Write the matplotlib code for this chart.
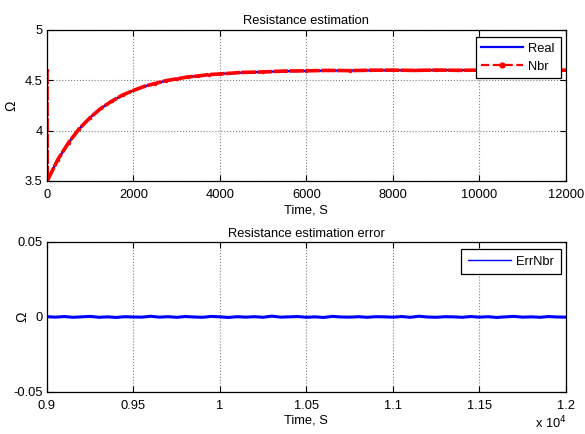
import numpy as np
import matplotlib
matplotlib.use("Agg")
import matplotlib.pyplot as plt
from matplotlib.lines import Line2D
from matplotlib.ticker import FuncFormatter

plt.rcParams['font.family'] = ['Liberation Sans', 'DejaVu Sans']

# --- data ---
t_real = [0, 250, 500, 750, 1000, 1250, 1500, 1750, 2000, 2250, 2500, 2750,
          3000, 3250, 3500, 3750, 4000, 4500, 5000, 5500, 6000, 6500, 7000,
          7500, 8000, 8500, 9000, 9500, 10000, 10500, 11000, 11500, 12000]
r_real = [3.500, 3.711, 3.882, 4.019, 4.131, 4.221, 4.294, 4.352, 4.400, 4.438,
          4.469, 4.494, 4.515, 4.531, 4.544, 4.555, 4.564, 4.576, 4.584, 4.590,
          4.593, 4.596, 4.597, 4.598, 4.599, 4.600, 4.600, 4.600, 4.600, 4.600,
          4.600, 4.600, 4.600]

t_nbr = [0, 5, 250, 500, 750, 1000, 1250, 1500, 1750, 2000, 2250, 2500, 2750,
         3000, 3250, 3500, 3750, 4000, 4500, 5000, 5500, 6000, 6500, 7000,
         7500, 8000, 8500, 9000, 9500, 10000, 10500, 11000, 11500, 12000]
r_nbr = [4.600, 3.500, 3.712, 3.881, 4.021, 4.130, 4.223, 4.293, 4.354, 4.399,
         4.440, 4.468, 4.496, 4.514, 4.533, 4.543, 4.557, 4.563, 4.578, 4.583,
         4.592, 4.594, 4.598, 4.596, 4.600, 4.601, 4.598, 4.602, 4.599, 4.601,
         4.598, 4.602, 4.599, 4.601]

t_err = [9000, 9050, 9100, 9150, 9200, 9250, 9300, 9350, 9400, 9450, 9500,
         9550, 9600, 9650, 9700, 9750, 9800, 9850, 9900, 9950, 10000,
         10050, 10100, 10150, 10200, 10250, 10300, 10350, 10400, 10450, 10500,
         10550, 10600, 10650, 10700, 10750, 10800, 10850, 10900, 10950, 11000,
         11050, 11100, 11150, 11200, 11250, 11300, 11350, 11400, 11450, 11500,
         11550, 11600, 11650, 11700, 11750, 11800, 11850, 11900, 11950, 12000]
err_nbr = [0.0002, -0.0001, 0.0003, -0.0002, 0.0001, 0.0004, -0.0002, 0.0001,
           -0.0003, 0.0002, 0.0000, -0.0001, 0.0005, -0.0001, 0.0002, -0.0002,
           0.0003, 0.0000, -0.0002, 0.0004, 0.0001, -0.0003, 0.0002, -0.0001,
           0.0002, -0.0002, 0.0006, -0.0001, 0.0001, 0.0003, -0.0002, 0.0001,
           -0.0003, 0.0004, 0.0000, -0.0001, 0.0002, -0.0002, 0.0002, 0.0001,
           -0.0001, 0.0003, -0.0002, 0.0005, 0.0000, -0.0002, 0.0002, 0.0001,
           -0.0002, 0.0003, -0.0001, 0.0002, -0.0003, 0.0001, 0.0004, -0.0001,
           0.0001, -0.0002, 0.0003, 0.0000, -0.0001]

FS = 9.3

fig = plt.figure(figsize=(5.85, 4.34), dpi=100)
ax1 = fig.add_axes([0.0803, 0.583, 0.887, 0.348])
ax2 = fig.add_axes([0.0803, 0.0968, 0.887, 0.3456])


def matlab_style(ax):
    ax.grid(True, color='#808080', linestyle=':', linewidth=0.8)
    ax.tick_params(axis='both', direction='in', top=True, right=True,
                   labelsize=FS, length=4, width=0.8)
    ax.tick_params(axis='x', pad=5.8)
    ax.tick_params(axis='y', pad=3)
    for s in ax.spines.values():
        s.set_linewidth(0.9)


# top panel
ax1.plot(t_real, r_real, color='blue', linewidth=1.6, label='Real')
ax1.plot(t_nbr, r_nbr, color='red', linestyle=(0, (4, 0.4)), linewidth=2.6,
         marker='.', markersize=3, label='Nbr')
ax1.set_xlim(0, 12000)
ax1.set_ylim(3.5, 5)
ax1.set_xticks(np.arange(0, 12001, 2000))
ax1.set_yticks([3.5, 4, 4.5, 5])
ax1.yaxis.set_major_formatter(FuncFormatter(lambda v, p: f'{v:g}'))
ax1.set_title('Resistance estimation', fontsize=FS, pad=4.3)
ax1.set_xlabel('Time, S', fontsize=FS, labelpad=2.4)
ax1.set_ylabel('Ω', fontsize=10)
ax1.yaxis.set_label_coords(-0.056, 0.5)
matlab_style(ax1)
h1 = [Line2D([], [], color='blue', linewidth=1.6),
      Line2D([], [], color='red', linestyle='--', linewidth=1.6,
             marker='.', markersize=7)]
leg1 = ax1.legend(h1, ['Real', 'Nbr'], loc='upper right',
                  bbox_to_anchor=(0.990, 0.954), fontsize=FS,
                  fancybox=False, edgecolor='black', framealpha=1,
                  borderaxespad=0, handlelength=3.2, handletextpad=0.45,
                  borderpad=0.45, labelspacing=0.45)
leg1.get_frame().set_linewidth(0.9)

# bottom panel
ax2.plot(t_err, err_nbr, color='blue', linewidth=2.2, label='ErrNbr')
ax2.set_xlim(9000, 12000)
ax2.set_ylim(-0.05, 0.05)
ax2.set_xticks(np.arange(9000, 12001, 500))
ax2.xaxis.set_major_formatter(FuncFormatter(lambda v, p: f'{v / 1e4:g}'))
ax2.set_yticks([-0.05, 0, 0.05])
ax2.yaxis.set_major_formatter(FuncFormatter(lambda v, p: f'{v:g}'))
ax2.set_title('Resistance estimation error', fontsize=FS, pad=3.5)
ax2.set_xlabel('Time, S', fontsize=FS, labelpad=1.6)
ax2.set_ylabel('Ω', fontsize=10)
ax2.yaxis.set_label_coords(-0.033, 0.5)
matlab_style(ax2)
h2 = [Line2D([], [], color='blue', linewidth=1.0)]
leg2 = ax2.legend(h2, ['ErrNbr'], loc='upper right',
                  bbox_to_anchor=(0.990, 0.953), fontsize=FS,
                  fancybox=False, edgecolor='black', framealpha=1,
                  borderaxespad=0, handlelength=3.3, handletextpad=0.45,
                  borderpad=0.5)
leg2.get_frame().set_linewidth(0.9)
ax2.text(1.002, -0.24, r'x 10$^4$', transform=ax2.transAxes, ha='right',
         va='baseline', fontsize=FS)

fig.savefig('out.png', dpi=100)
